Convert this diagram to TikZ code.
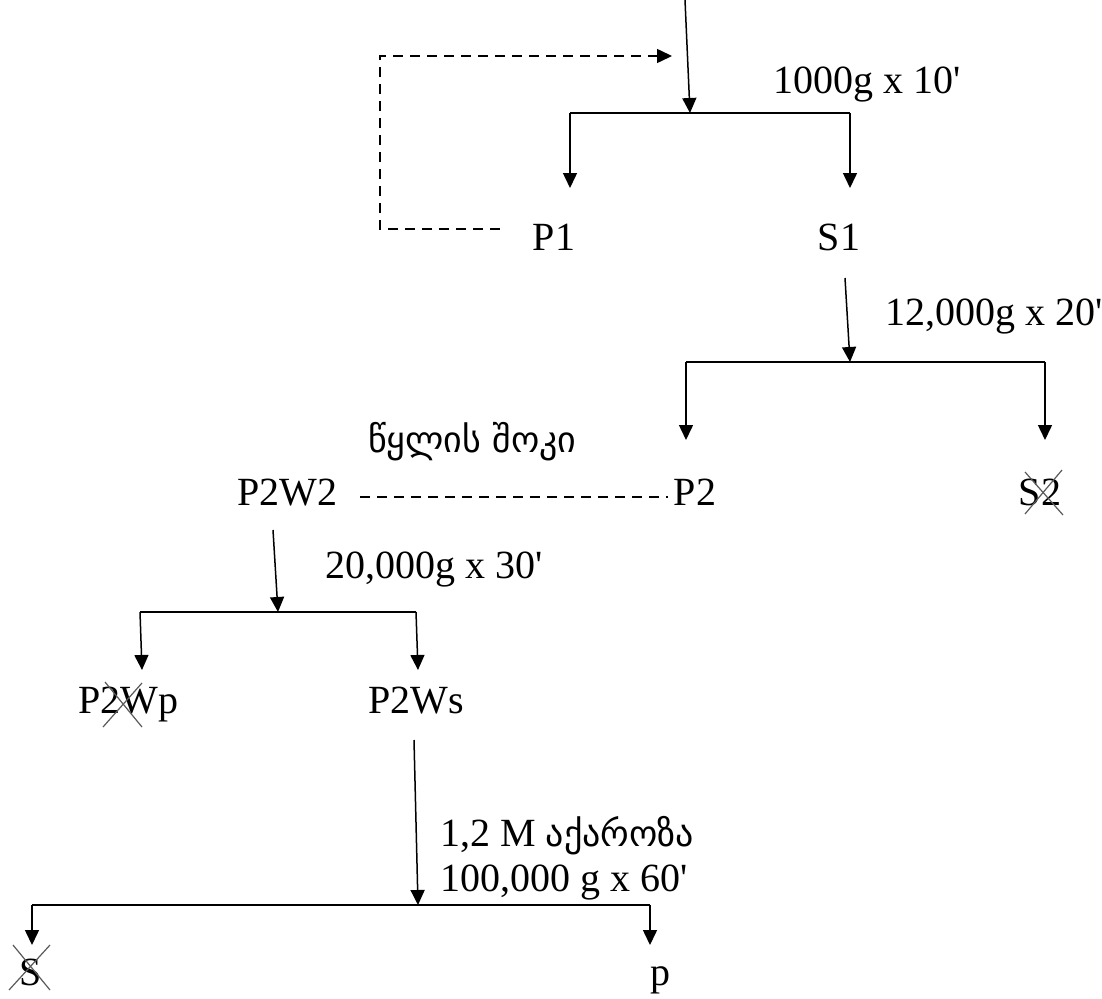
\documentclass[tikz,border=0pt]{standalone}
\usepackage{fontspec}
\setmainfont{Liberation Serif}
\newfontfamily\geofont{DejaVu Sans}
\usetikzlibrary{arrows.meta}
\begin{document}
\begin{tikzpicture}[x=1pt,y=-1pt,
  lbl/.style={font=\fontsize{40}{46}\selectfont, inner sep=0pt, anchor=base},
  lblw/.style={lbl, anchor=base west},
  geo/.style={font=\fontsize{36}{44}\selectfont\geofont, inner sep=0pt, anchor=base west},
  arr/.style={line width=1.5pt, -{Triangle[width=14pt,length=15pt]}},
  ln/.style={line width=1.5pt},
  dsh/.style={line width=1.5pt, dash pattern=on 10pt off 7pt},
  xout/.style={line width=1.2pt, draw=black!65}]
\useasboundingbox (0,0) rectangle (1102,998);
% ---- level 1
\coordinate (in) at (685,0);
\coordinate (j1) at (690,113);
\coordinate (b1l) at (570,113);
\coordinate (b1r) at (850,113);
\coordinate (t1l) at (570,188);
\coordinate (t1r) at (850,188);
\node[lbl] (P1) at (554,250) {P1};
\node[lbl] (S1) at (839,250) {S1};
\node[lblw] (L1) at (773,93) {1000g x 10\textquotesingle};
\draw[arr] (in) -- (j1);
\draw[ln] (b1l) -- (b1r);
\draw[arr] (b1l) -- (t1l);
\draw[arr] (b1r) -- (t1r);
\coordinate (d0) at (500,229);
\coordinate (d1) at (380,229);
\coordinate (d2) at (380,56);
\coordinate (d3) at (672,56);
\draw[dsh, -{Triangle[width=14pt,length=15pt]}] (d0) -- (d1) -- (d2) -- (d3);
% ---- level 2
\coordinate (s1b) at (845,278);
\coordinate (j2) at (850,362);
\coordinate (b2l) at (686,362);
\coordinate (b2r) at (1045,362);
\coordinate (t2l) at (686,440);
\coordinate (t2r) at (1045,440);
\draw[arr] (s1b) -- (j2);
\draw[ln] (b2l) -- (b2r);
\draw[arr] (b2l) -- (t2l);
\draw[arr] (b2r) -- (t2r);
\node[lblw] (L2) at (885,325) {12,000g x 20\textquotesingle};
\node[lbl] (P2) at (695,505) {P2};
\node[lbl] (S2) at (1040,505) {S2};
\draw[xout] (1025,472) -- (1063,515);
\draw[xout] (1062,470) -- (1025,514);
\node[geo] (G1) at (368,452) {წყლის შოკი};
\node[lbl] (P2W2) at (287,505) {P2W2};
\coordinate (e0) at (360,497);
\coordinate (e1) at (668,497);
\draw[dsh] (e0) -- (e1);
% ---- level 3
\coordinate (p2b) at (273,530);
\coordinate (j3) at (278,612);
\coordinate (b3l) at (140,612);
\coordinate (b3r) at (416,612);
\coordinate (t3l) at (142,670);
\coordinate (t3r) at (418,670);
\draw[arr] (p2b) -- (j3);
\draw[ln] (b3l) -- (b3r);
\draw[arr] (b3l) -- (t3l);
\draw[arr] (b3r) -- (t3r);
\node[lblw] (L3) at (325,578) {20,000g x 30\textquotesingle};
\node[lbl] (P2Wp) at (128,713) {P2Wp};
\draw[xout] (105,682) -- (142,727);
\draw[xout] (142,683) -- (103,727);
\node[lbl] (P2Ws) at (416,713) {P2Ws};
% ---- level 4
\coordinate (p4b) at (414,740);
\coordinate (j4) at (418,905);
\coordinate (b4l) at (32,905);
\coordinate (b4r) at (650,905);
\coordinate (t4l) at (32,945);
\coordinate (t4r) at (650,945);
\draw[arr] (p4b) -- (j4);
\draw[ln] (b4l) -- (b4r);
\draw[arr] (b4l) -- (t4l);
\draw[arr] (b4r) -- (t4r);
\node[lblw] (L4a) at (440,846) {1,2 M {\geofont\fontsize{36}{44}\selectfont აქაროზა}};
\node[lblw] (L4b) at (440,891) {100,000 g x 60\textquotesingle};
\node[lbl] (S) at (31,985) {S};
\draw[xout] (13,945) -- (50,990);
\draw[xout] (50,945) -- (9,990);
\node[lbl] (p) at (660,985) {p};
\end{tikzpicture}
\end{document}
